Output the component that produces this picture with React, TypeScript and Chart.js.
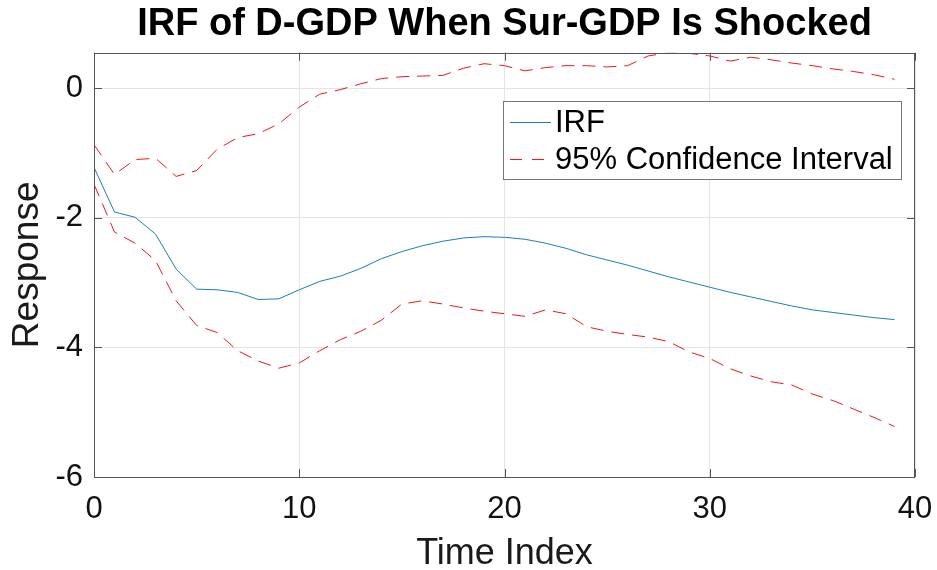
import React, { useEffect, useRef } from 'react';
import { Chart, registerables } from 'chart.js';

Chart.register(...registerables);

const timeIndex = [0, 1, 2, 3, 4, 5, 6, 7, 8, 9, 10, 11, 12, 13, 14, 15, 16, 17, 18, 19, 20, 21, 22, 23, 24, 25, 26, 27, 28, 29, 30, 31, 32, 33, 34, 35, 36, 37, 38, 39];

const irf = [-1.22, -1.91, -1.99, -2.25, -2.79, -3.10, -3.11, -3.15, -3.26, -3.25, -3.11, -2.98, -2.90, -2.78, -2.63, -2.52, -2.43, -2.36, -2.31, -2.29, -2.30, -2.33, -2.39, -2.47, -2.57, -2.65, -2.73, -2.82, -2.91, -2.99, -3.07, -3.15, -3.22, -3.29, -3.36, -3.42, -3.46, -3.50, -3.54, -3.57];

const upperCI = [-0.87, -1.33, -1.10, -1.08, -1.36, -1.27, -0.94, -0.76, -0.70, -0.55, -0.29, -0.09, -0.02, 0.07, 0.15, 0.18, 0.19, 0.20, 0.31, 0.38, 0.35, 0.27, 0.32, 0.35, 0.35, 0.33, 0.35, 0.50, 0.55, 0.54, 0.50, 0.42, 0.48, 0.44, 0.39, 0.35, 0.30, 0.26, 0.21, 0.14];

const lowerCI = [-1.48, -2.22, -2.39, -2.66, -3.28, -3.66, -3.77, -4.05, -4.21, -4.32, -4.24, -4.05, -3.88, -3.75, -3.58, -3.33, -3.28, -3.33, -3.39, -3.44, -3.48, -3.52, -3.42, -3.48, -3.68, -3.75, -3.80, -3.84, -3.91, -4.07, -4.17, -4.33, -4.44, -4.53, -4.58, -4.72, -4.82, -4.95, -5.08, -5.22];

const xTicks = [0, 10, 20, 30, 40];
const yTicks = [-6, -4, -2, 0];

const TITLE = 'IRF of D-GDP When Sur-GDP Is Shocked';
const X_LABEL = 'Time Index';
const Y_LABEL = 'Response';
const LEGEND_LABELS = ['IRF', '95% Confidence Interval'];

const BLUE = '#1f7cc0';
const RED = '#f01818';
const FONT = '"Liberation Sans", Arial, Helvetica, sans-serif';
const DASH = [13, 8];

const boxPlugin = {
  id: 'matlabBox',
  afterDraw(chart: any) {
    const { ctx, chartArea } = chart;
    const { left, right, top, bottom } = chartArea;
    const xs = chart.scales.x;
    const ys = chart.scales.y;
    ctx.save();
    ctx.strokeStyle = '#555555';
    ctx.lineWidth = 1;
    ctx.strokeRect(Math.round(left) + 0.5, Math.round(top) + 0.5, Math.round(right - left) - 1, Math.round(bottom - top));
    const tl = 8;
    ctx.beginPath();
    xTicks.forEach((v) => {
      const px = Math.round(xs.getPixelForValue(v)) + 0.5;
      ctx.moveTo(px, bottom);
      ctx.lineTo(px, bottom - tl);
      ctx.moveTo(px, top);
      ctx.lineTo(px, top + tl);
    });
    yTicks.forEach((v) => {
      const py = Math.round(ys.getPixelForValue(v)) + 0.5;
      ctx.moveTo(left, py);
      ctx.lineTo(left + tl, py);
      ctx.moveTo(right, py);
      ctx.lineTo(right - tl, py);
    });
    ctx.stroke();

    // legend
    const lx = 503.5, ly = 101.5, lw = 398, lh = 78;
    ctx.fillStyle = '#ffffff';
    ctx.fillRect(lx, ly, lw, lh);
    ctx.strokeStyle = '#777777';
    ctx.strokeRect(lx, ly, lw, lh);
    const rows = [
      { y: 122.5, color: BLUE, dash: [] as number[], end: 551 },
      { y: 159.5, color: RED, dash: [12, 10], end: 544 },
    ];
    rows.forEach((r, i) => {
      ctx.beginPath();
      ctx.setLineDash(r.dash);
      ctx.strokeStyle = r.color;
      ctx.lineWidth = 1;
      ctx.moveTo(510, r.y);
      ctx.lineTo(r.end, r.y);
      ctx.stroke();
      ctx.setLineDash([]);
      ctx.fillStyle = '#000000';
      ctx.font = `31px ${FONT}`;
      ctx.textAlign = 'left';
      ctx.textBaseline = 'middle';
      ctx.fillText(LEGEND_LABELS[i], 555, r.y + 1);
    });
    ctx.restore();
  },
};

export default function App() {
  const canvasRef = useRef<HTMLCanvasElement | null>(null);

  useEffect(() => {
    if (!canvasRef.current) return;
    const chart = new Chart(canvasRef.current, {
      type: 'line',
      data: {
        datasets: [
          {
            label: LEGEND_LABELS[0],
            data: timeIndex.map((t, i) => ({ x: t, y: irf[i] })),
            borderColor: BLUE,
            borderWidth: 1,
            pointRadius: 0,
            tension: 0,
          },
          {
            label: LEGEND_LABELS[1],
            data: timeIndex.map((t, i) => ({ x: t, y: upperCI[i] })),
            borderColor: RED,
            borderWidth: 1,
            borderDash: DASH,
            pointRadius: 0,
            tension: 0,
          },
          {
            label: LEGEND_LABELS[1] + ' (lower)',
            data: timeIndex.map((t, i) => ({ x: t, y: lowerCI[i] })),
            borderColor: RED,
            borderWidth: 1,
            borderDash: DASH,
            pointRadius: 0,
            tension: 0,
          },
        ],
      },
      options: {
        responsive: false,
        animation: false,
        layout: { padding: { left: 0, right: 22, top: 0, bottom: 0 } },
        plugins: {
          legend: { display: false },
          tooltip: { enabled: false },
          title: {
            display: true,
            text: TITLE,
            fullSize: false,
            color: '#000000',
            font: { family: FONT, size: 38, weight: 'bold', lineHeight: 1.1 },
            padding: { top: 4, bottom: 6.9 },
          },
        },
        scales: {
          x: {
            type: 'linear',
            min: 0,
            max: 40,
            afterBuildTicks: (scale: any) => {
              scale.ticks = xTicks.map((v) => ({ value: v }));
            },
            afterFit: (scale: any) => {
              scale.height = 93;
              scale.paddingLeft = 0;
              scale.paddingRight = 0;
            },
            grid: { color: '#e4e4e4', drawTicks: false, lineWidth: 1 },
            border: { display: false },
            ticks: {
              color: '#111111',
              font: { family: FONT, size: 31 },
              padding: 14,
              maxRotation: 0,
              callback: (v: any) => String(v),
            },
            title: {
              display: true,
              text: X_LABEL,
              color: '#1a1a1a',
              font: { family: FONT, size: 36, lineHeight: 0.9 },
              padding: { top: 0, bottom: 0 },
            },
          },
          y: {
            type: 'linear',
            min: -6,
            max: 0.55,
            afterBuildTicks: (scale: any) => {
              scale.ticks = yTicks.map((v) => ({ value: v }));
            },
            afterFit: (scale: any) => {
              scale.width = 94;
              scale.paddingTop = 0;
              scale.paddingBottom = 0;
            },
            grid: { color: '#e4e4e4', drawTicks: false, lineWidth: 1 },
            border: { display: false },
            ticks: {
              color: '#111111',
              font: { family: FONT, size: 31 },
              padding: 11,
              callback: (v: any) => String(v),
            },
            title: {
              display: true,
              text: Y_LABEL,
              color: '#1a1a1a',
              font: { family: FONT, size: 37, lineHeight: 1.2 },
              padding: { top: 6, bottom: 0 },
            },
          },
        },
      },
      plugins: [boxPlugin],
    });
    return () => chart.destroy();
  }, []);

  return (
    <div style={{ position: 'absolute', left: 0, top: 0, width: 937, height: 570, background: '#ffffff' }}>
      <canvas ref={canvasRef} width={937} height={570} />
    </div>
  );
}
